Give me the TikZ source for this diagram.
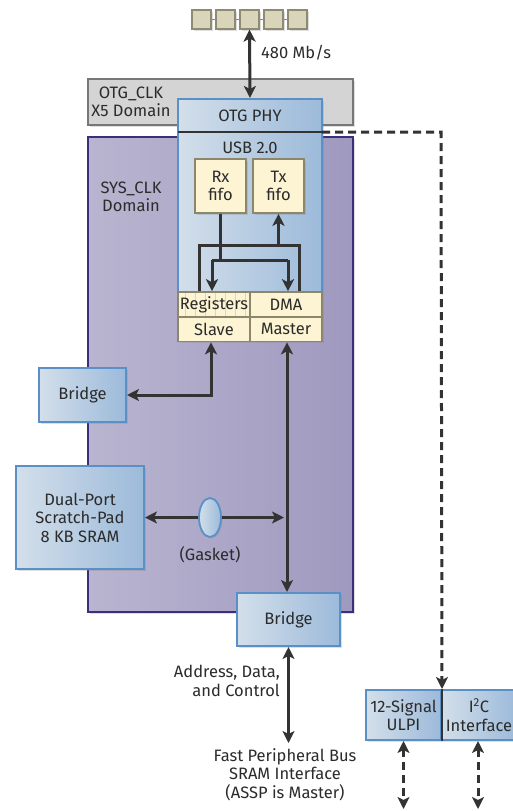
\documentclass[tikz,border=0pt]{standalone}
\usepackage{fontspec}
\setmainfont{Fira Sans}
\usetikzlibrary{arrows.meta,shadows,calc,shapes.geometric}
\definecolor{txt}{HTML}{2B2B2B}
\definecolor{arr}{HTML}{333333}
\definecolor{bluelt}{HTML}{D3DFEA}
\definecolor{bluedk}{HTML}{9CBADA}
\definecolor{blueln}{HTML}{5A90C6}
\definecolor{purlt}{HTML}{B9B5D0}
\definecolor{purdk}{HTML}{9F99BF}
\definecolor{purln}{HTML}{3A2F7C}
\definecolor{creamf}{HTML}{FCF4D2}
\definecolor{creamln}{HTML}{8C866C}
\definecolor{stripe}{HTML}{DDD6BC}
\definecolor{grayf}{HTML}{D4D4D4}
\definecolor{grayln}{HTML}{777777}
\definecolor{sqf}{HTML}{D8D5BA}
\definecolor{sqln}{HTML}{8F8B72}
\tikzset{
  every node/.style={font=\fontsize{16.5}{18.5}\selectfont, text=txt, inner sep=0pt, align=center},
  bluebox/.style={draw=blueln, line width=2pt, left color=bluelt, right color=bluedk,
     drop shadow={shadow xshift=2pt, shadow yshift=-2pt, opacity=0.25}},
  creambox/.style={draw=creamln, line width=1.6pt, fill=creamf,
     drop shadow={shadow xshift=2pt, shadow yshift=-2pt, opacity=0.25}},
  cell/.style={draw=creamln, line width=1.6pt, minimum width=72, minimum height=25},
  sqbox/.style={draw=sqln, line width=1.2pt, fill=sqf, minimum width=19, minimum height=19,
     drop shadow={shadow xshift=1.5pt, shadow yshift=-1.5pt, opacity=0.25}},
  conn/.style={draw=arr, line width=3pt},
  dbl/.style={conn, {Stealth[length=12pt,width=12pt,inset=3pt]}-{Stealth[length=12pt,width=12pt,inset=3pt]}},
  one/.style={conn, -{Stealth[length=12pt,width=12pt,inset=3pt]}},
  dsh/.style={conn, dash pattern=on 8pt off 5pt},
}
\begin{document}
\begin{tikzpicture}[x=1pt,y=-1pt]
\useasboundingbox (0,0) rectangle (513,811);
% domains
\node[draw=grayln, line width=1.6pt, fill=grayf, minimum width=265, minimum height=46,
  drop shadow={shadow xshift=2pt, shadow yshift=-2pt, opacity=0.25}] (otgclk) at (220.5,102) {};
\node[draw=purln, line width=2pt, left color=purlt, right color=purdk, minimum width=265, minimum height=475,
  drop shadow={shadow xshift=2pt, shadow yshift=-2pt, opacity=0.25}] (sysclk) at (220.5,374.5) {};
\node (otgclkt) at (131,102) {OTG\_CLK\\X5 Domain};
\node (sysclkt) at (131,197) {SYS\_CLK\\Domain};
% PHY / USB box
\node[bluebox, minimum width=144, minimum height=193] (phy) at (250,195.5) {};
\coordinate (divL) at (178,132);
\coordinate (divR) at (322,132);
\draw[arr, line width=2pt] (divL) -- (divR);
\node (phyt) at (250,116) {OTG PHY};
\node (usbt) at (250,148) {USB 2.0};
\node[creambox, minimum width=51, minimum height=54] (rx) at (220.5,186) {Rx\\fifo};
\node[creambox, minimum width=51, minimum height=54] (tx) at (278.5,186) {Tx\\fifo};
% register block
\fill[creamf, drop shadow={shadow xshift=2pt, shadow yshift=-2pt, opacity=0.25}] (178,292) rectangle (322,341);
\foreach \sx in {185,195,205,215,225,235,245} {\draw[stripe, line width=1pt] (\sx,293) -- (\sx,316);}
\node[cell] (reg) at (214,304.5) {Registers};
\node[cell] (dma) at (286,304.5) {DMA};
\node[cell] (slave) at (214,329) {Slave};
\node[cell] (master) at (286,329) {Master};
% other boxes
\node[bluebox, minimum width=87, minimum height=54] (br1) at (82.5,395) {Bridge};
\node[bluebox, minimum width=128, minimum height=103] (dual) at (80,517.5) {Dual-Port\\Scratch-Pad\\8 KB SRAM};
\node[draw=blueln, line width=1.8pt, left color=bluelt, right color=bluedk, ellipse, minimum width=22, minimum height=39,
  drop shadow={shadow xshift=1.5pt, shadow yshift=-1.5pt, opacity=0.25}] (gasket) at (210,517.5) {};
\node (gaskett) at (210,555) {(Gasket)};
\node[bluebox, minimum width=103, minimum height=53] (br2) at (288.5,619.5) {Bridge};
\node[bluebox, minimum width=75, minimum height=50] (ulpi) at (403.5,715) {12-Signal\\ULPI};
\node[bluebox, minimum width=76, minimum height=50] (i2c) at (479,715) {I\textsuperscript{2}C\\Interface};
\draw[arr, line width=2.5pt] (ulpi.north east) -- (ulpi.south east);
% connector squares
\foreach \i/\x in {1/201.5,2/225.5,3/249.5,4/273.5,5/297.5} {
  \node[sqbox] (sq\i) at (\x,19.5) {};
}
\draw[sqln, line width=1.5pt] (sq1.east) -- (sq2.west) (sq2.east) -- (sq3.west) (sq3.east) -- (sq4.west) (sq4.east) -- (sq5.west);
% labels
\node[anchor=west] (rate) at (261,53) {480 Mb/s};
\node[align=right, anchor=east] (adc) at (280,681) {Address, Data,\\and Control};
\node (fpb) at (285,774.5) {Fast Peripheral Bus\\SRAM Interface\\(ASSP is Master)};
% connectors
\draw[dbl] (sq3.south) -- (phy.north);
\coordinate (rxj) at (220.5,260);
\draw[conn] (rx.south) -- (rxj);
\draw[conn] (212,260) -- (288,260);
\draw[one] (212,260) -- (reg.north -| 212,0);
\draw[one] (288,260) -- (dma.north -| 288,0);
\coordinate (txj) at (278.5,245);
\draw[conn] (reg.north -| 199,0) -- (199,245) -- (299,245) -- (dma.north -| 299,0);
\draw[one] (txj) -- (tx.south);
\draw[dbl] (br1.east) -| ([xshift=-3pt]slave.south);
\draw[dbl] ([xshift=1pt]master.south) -- (br2.north -| 287,0);
\coordinate (gaskend) at (284,517.5);
\draw[one] (gasket.west) -- (dual.east);
\draw[one] (gasket.east) -- (gaskend);
\coordinate (fpbtop) at (288.5,743);
\draw[dbl] (br2.south) -- (fpbtop);
\draw[dsh, -{Stealth[length=12pt,width=12pt,inset=3pt]}] (divR) -- (441,132) -- (ulpi.north east);
\coordinate (ulpibot) at (403.5,809);
\coordinate (i2cbot) at (478,809);
\draw[dsh, {Stealth[length=12pt,width=12pt,inset=3pt]}-{Stealth[length=12pt,width=12pt,inset=3pt]}] (ulpi.south) -- (ulpibot);
\draw[dsh, {Stealth[length=12pt,width=12pt,inset=3pt]}-{Stealth[length=12pt,width=12pt,inset=3pt]}] (i2c.south -| 478,0) -- (i2cbot);
\end{tikzpicture}
\end{document}
